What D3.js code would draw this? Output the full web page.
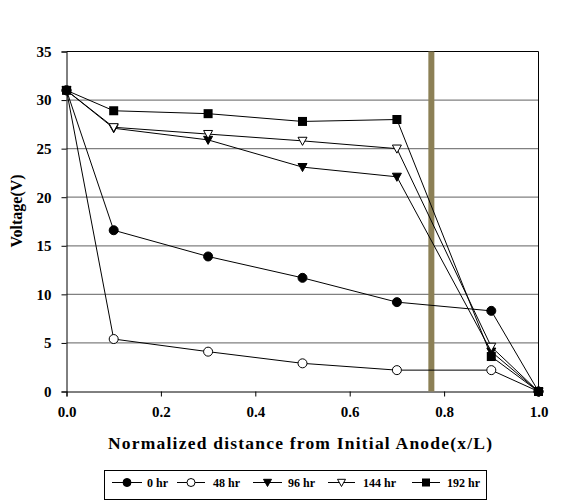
<!DOCTYPE html>
<html><head><meta charset="utf-8">
<script src="https://cdn.jsdelivr.net/npm/d3@7"></script>
<style>body{margin:0;background:#fff;} svg{display:block;} text{font-family:"Liberation Serif","Times New Roman",Times,"DejaVu Serif",serif;}</style>
</head><body>
<svg id="c" width="565" height="502"></svg>
<script>
const xVals = [0, 0.1, 0.3, 0.5, 0.7, 0.9, 1.0];
const seriesNames = ["0 hr", "48 hr", "96 hr", "144 hr", "192 hr"];
const hr0   = [31, 16.6, 13.9, 11.7, 9.2, 8.3, 0];
const hr48  = [31, 5.4, 4.1, 2.9, 2.2, 2.2, 0];
const hr96  = [31, 27.1, 25.9, 23.1, 22.1, 4.1, 0];
const hr144 = [31, 27.2, 26.5, 25.8, 25.0, 4.6, 0];
const hr192 = [31, 28.9, 28.6, 27.8, 28.0, 3.6, 0];
const markerBar = 0.773;
const xTicks = [0, 0.2, 0.4, 0.6, 0.8, 1.0];
const yTicks = [0, 5, 10, 15, 20, 25, 30, 35];

const seriesVals = [hr0, hr48, hr96, hr144, hr192];
const shapes = ["circleF", "circleO", "triDF", "triDO", "squareF"];

const svg = d3.select("#c");
const L = 66.5, R = 538.5, T = 51.5, B = 391.5;
const x = d3.scaleLinear().domain([0, 1]).range([L, R]);
const y = d3.scaleLinear().domain([0, 35]).range([B, T]);

// grid
svg.append("g").selectAll("line").data(yTicks.filter(v => v > 0 && v < 35)).join("line")
  .attr("x1", L).attr("x2", R).attr("y1", d => y(d)).attr("y2", d => y(d))
  .attr("stroke", "#808080").attr("stroke-width", 1.3);
// top & right border
svg.append("line").attr("x1", L).attr("x2", R).attr("y1", T).attr("y2", T).attr("stroke", "#000");
svg.append("line").attr("x1", R).attr("x2", R).attr("y1", T).attr("y2", B).attr("stroke", "#000");

// axes
const xAxis = d3.axisBottom(x).tickValues(xTicks).tickFormat(d3.format(".1f")).tickSizeOuter(0).tickSize(5).tickPadding(10);
const yAxis = d3.axisLeft(y).tickValues(yTicks).tickFormat(d3.format("d")).tickSizeOuter(0).tickSize(5).tickPadding(10);
const gx = svg.append("g").attr("transform", `translate(0,${B})`).call(xAxis);
const gy = svg.append("g").attr("transform", `translate(${L},0)`).call(yAxis);
[gx, gy].forEach(g => {
  g.attr("font-family", null);
  g.select(".domain").attr("stroke", "#000");
  g.selectAll(".tick line").attr("stroke", "#000");
  g.selectAll("text").attr("font-weight", "bold").attr("font-size", 15).attr("fill", "#000");
});

// olive bar
svg.append("rect").attr("x", x(markerBar) - 3).attr("width", 6)
  .attr("y", T).attr("height", B - T).attr("fill", "#8c8056");

function drawMarker(g, shape, cx, cy, s) {
  if (shape === "circleF" || shape === "circleO") {
    g.append("circle").attr("cx", cx).attr("cy", cy).attr("r", s * 0.5)
      .attr("fill", shape === "circleF" ? "#000" : "#fff").attr("stroke", "#000").attr("stroke-width", 1);
  } else if (shape === "squareF") {
    g.append("rect").attr("x", cx - s / 2).attr("y", cy - s / 2).attr("width", s).attr("height", s).attr("fill", "#000");
  } else {
    const h = s * 0.5;
    g.append("path").attr("d", `M${cx - h},${cy - h * 0.8}L${cx + h},${cy - h * 0.8}L${cx},${cy + h * 1.0}Z`)
      .attr("fill", shape === "triDF" ? "#000" : "#fff").attr("stroke", "#000").attr("stroke-width", 1);
  }
}

const line = d3.line().x(d => x(d[0])).y(d => y(d[1]));
seriesVals.forEach((vals, i) => {
  const pts = xVals.map((xv, j) => [xv, vals[j]]);
  const g = svg.append("g");
  g.append("path").attr("d", line(pts)).attr("fill", "none").attr("stroke", "#000").attr("stroke-width", 1);
  pts.forEach(p => drawMarker(g, shapes[i], x(p[0]), y(p[1]), 9));
});

// titles
svg.append("text").attr("x", 108).attr("y", 449)
  .attr("font-weight", "bold").attr("font-size", 17.5)
  .attr("textLength", 384).attr("lengthAdjust", "spacing")
  .text("Normalized distance from Initial Anode(x/L)");
svg.append("text").attr("transform", "translate(22,211) rotate(-90)").attr("text-anchor", "middle")
  .attr("font-weight", "bold").attr("font-size", 16).text("Voltage(V)");

// legend
svg.append("rect").attr("x", 104.5).attr("y", 470.5).attr("width", 382).attr("height", 29)
  .attr("fill", "#fff").attr("stroke", "#000");
const legX = [112, 177, 253, 328, 412];
const legLen = [30, 28, 29, 27, 28];
const legText = [147, 213, 288, 363, 447];
const lg = svg.append("g");
seriesNames.forEach((n, i) => {
  const cy = 482.5;
  lg.append("line").attr("x1", legX[i]).attr("x2", legX[i] + legLen[i]).attr("y1", cy).attr("y2", cy).attr("stroke", "#000");
  drawMarker(lg, shapes[i], legX[i] + legLen[i] / 2, cy, 8);
  lg.append("text").attr("x", legText[i]).attr("y", cy + 4.5)
    .attr("font-weight", "bold").attr("font-size", 12).text(n);
});
</script>
</body></html>
